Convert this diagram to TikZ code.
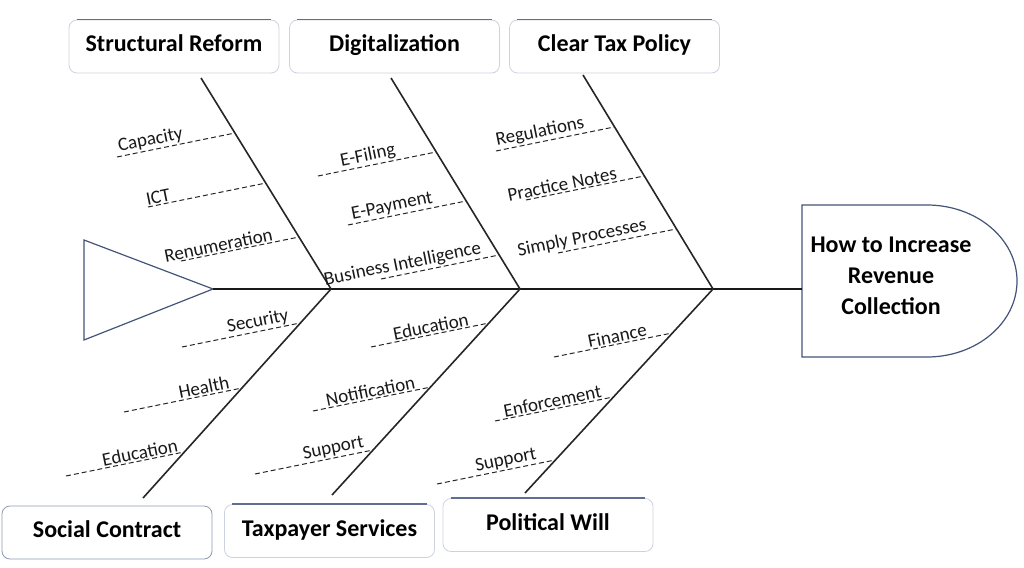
\documentclass[tikz,border=0pt]{standalone}
\usepackage{fontspec}
\setmainfont{Carlito}
\usetikzlibrary{calc}
\definecolor{bluegray}{RGB}{68,84,120}
\definecolor{boxtop}{RGB}{95,110,145}
\definecolor{boxfaint}{RGB}{205,210,222}
\newcommand\mytwig[4]{%
  \coordinate (#1j) at (#2);
  \coordinate (#1e) at ($(#1j)+(-118,24)$);
  \draw[twig] (#1e) -- (#1j) node[pos=#3, lbl] {#4};}
\begin{document}
\begin{tikzpicture}[x=1pt,y=-1pt,
  catbox/.style={draw=boxfaint, line width=0.8pt, rounded corners=8pt,
    minimum width=210pt, minimum height=53pt, inner sep=0pt,
    text height=16pt, text depth=6pt,
    font=\fontsize{24}{28}\selectfont\bfseries},
  topedge/.style={draw=boxtop, line width=1.3pt},
  bone/.style={draw=black!85, line width=1.6pt},
  spine/.style={draw=black!90, line width=2.4pt},
  twig/.style={draw=black!85, line width=1pt, dash pattern=on 5pt off 3pt},
  lbl/.style={sloped, anchor=south, inner sep=1.2pt, text=black!90,
    font=\fontsize{19}{22}\selectfont},
  headtxt/.style={align=center, font=\fontsize{24}{31}\selectfont\bfseries},
  outline/.style={draw=bluegray, line width=1.2pt}]
\useasboundingbox (0,0) rectangle (1024,567);

% category boxes
\node[catbox] (sr)  at (174,46.5) {Structural Reform};
\node[catbox] (dig) at (394.5,46.5) {Digitalization};
\node[catbox] (ctp) at (614.5,46.5) {Clear Tax Policy};
\node[catbox, draw=boxtop!70] (sc)  at (107,532.5) {Social Contract};
\node[catbox] (ts)  at (329.5,531) {Taxpayer Services};
\node[catbox] (pw)  at (548,525) {Political Will};
\foreach \b in {sr,dig,ctp,ts,pw}{
  \draw[topedge] ($(\b.north west)+(8,0)$) -- ($(\b.north east)+(-8,0)$);}

% tail
\coordinate (tip) at (213,289);
\draw[outline] (84,240) -- (84,340) -- (tip) -- cycle;

% head
\draw[outline, fill=white] (802,205) -- (927,205) arc (-90:90:90 and 76) -- (802,357) -- cycle;
\node[headtxt] (head) at (891,276) {How to Increase\\Revenue\\Collection};
\coordinate (headL) at (802,289);

% spine
\draw[spine] (tip) -- (headL);

% junctions and bone ends
\coordinate (srB) at (331,289);
\coordinate (digB) at (520,289);
\coordinate (ctpB) at (713,289);
\coordinate (srT) at (201,78);
\coordinate (digT) at (391,78);
\coordinate (ctpT) at (583,75);
\coordinate (scT) at (143,498);
\coordinate (tsT) at (332,495);
\coordinate (pwT) at (525,493);
\draw[bone] (srT) -- (srB);
\draw[bone] (digT) -- (digB);
\draw[bone] (ctpT) -- (ctpB);
\draw[bone] (scT) -- (srB);
\draw[bone] (tsT) -- (digB);
\draw[bone] (pwT) -- (ctpB);

% sub causes
\mytwig{cap}{235,133}{.3}{Capacity}
\mytwig{ict}{266,183}{.1}{ICT}
\mytwig{ren}{299,237}{.33}{Renumeration}
\mytwig{ef}{436,152}{.44}{E-Filing}
\mytwig{ep}{466,201}{.39}{E-Payment}
\mytwig{bi}{499,255}{.2}{Business Intelligence}
\mytwig{reg}{614,127}{.39}{Regulations}
\mytwig{pn}{644,176}{.32}{Practice Notes}
\mytwig{spp}{676,229}{.22}{Simply Processes}
\mytwig{sec}{300,323}{.66}{Security}
\mytwig{hea}{242,388}{.69}{Health}
\mytwig{eda}{184,452}{.64}{Education}
\mytwig{edb}{489,323}{.52}{Education}
\mytwig{noti}{431,387}{.5}{Notification}
\mytwig{supa}{373,450}{.68}{Support}
\mytwig{fin}{672,333}{.55}{Finance}
\mytwig{enf}{613,397}{.5}{Enforcement}
\mytwig{supb}{555,460}{.6}{Support}
\end{tikzpicture}
\end{document}
